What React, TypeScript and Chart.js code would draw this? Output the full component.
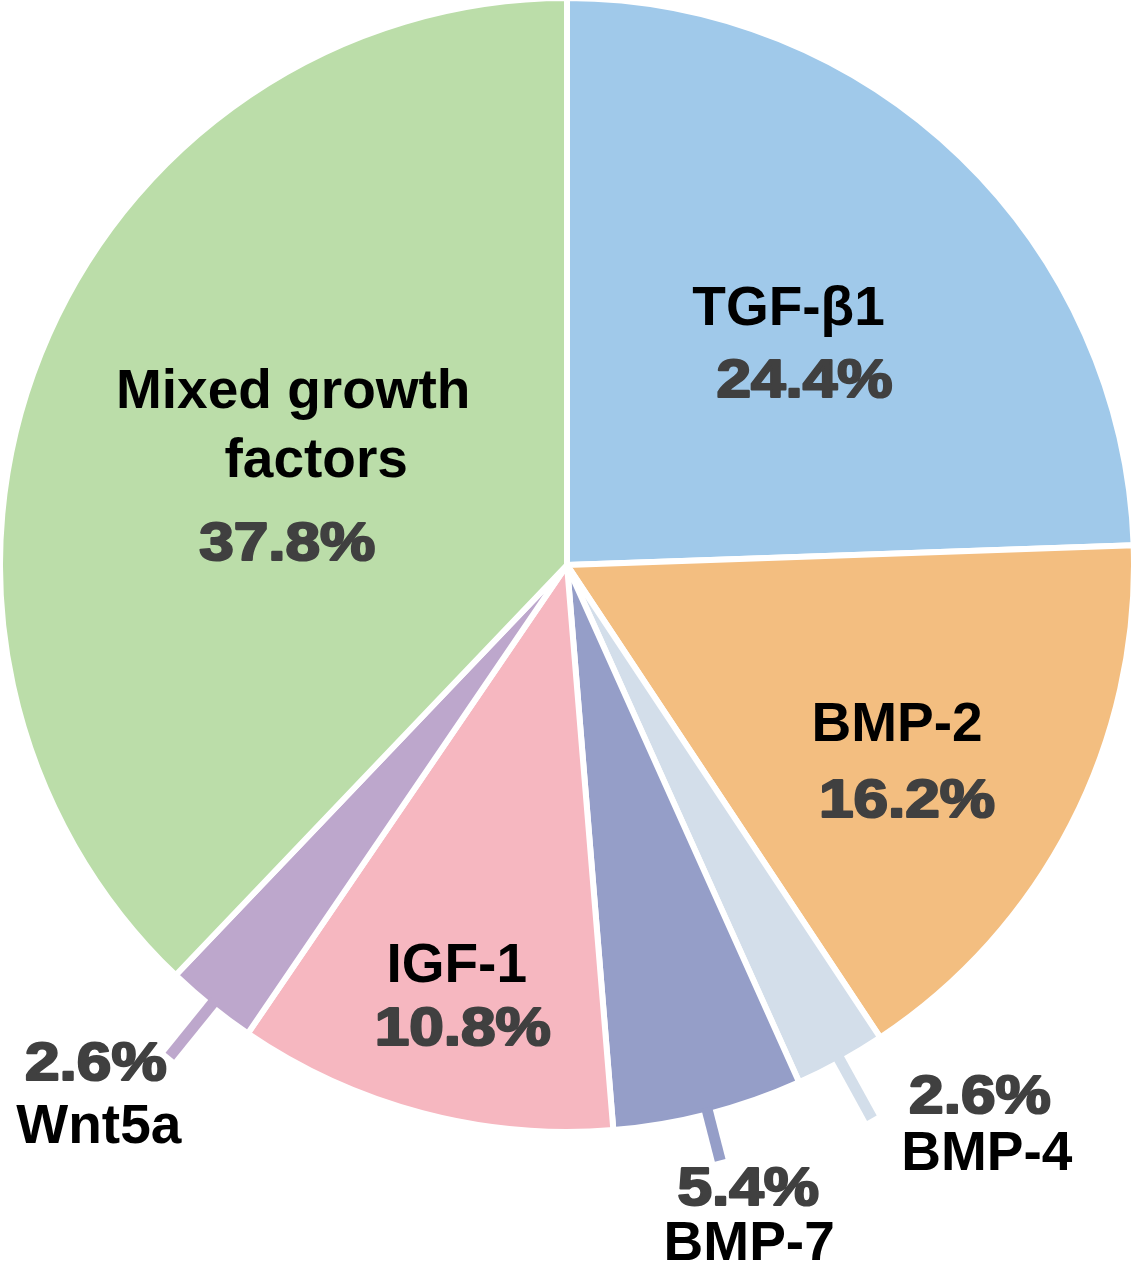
import React, { useEffect, useRef } from "react";
import { Chart, registerables } from "chart.js";

Chart.register(...registerables);

const categories = ["TGF-β1", "BMP-2", "BMP-4", "BMP-7", "IGF-1", "Wnt5a", "Mixed growth factors"];
const values = [24.4, 16.2, 2.6, 5.4, 10.8, 2.6, 37.8];
const percentLabels = ["24.4%", "16.2%", "2.6%", "5.4%", "10.8%", "2.6%", "37.8%"];
const nameLines = [["TGF-β1"], ["BMP-2"], ["BMP-4"], ["BMP-7"], ["IGF-1"], ["Wnt5a"], ["Mixed growth", "factors"]];
const colors = ["#A0C9EA", "#F3BE80", "#D3DEEA", "#959EC8", "#F6B7C0", "#BDA7CC", "#BBDDA9"];

// label layout (per slice): inside = anchor at mid-angle * frac; outside = leader line end at frac
type LabelLine = { kind: "name" | "pct"; idx?: number; dx: number; dy: number };
type LabelCfg = { outside: boolean; frac: number; lines: LabelLine[] };
const labelLayout: LabelCfg[] = [
  { outside: false, frac: 0.55, lines: [{ kind: "name", idx: 0, dx: 6, dy: -17 }, { kind: "pct", dx: 22, dy: 55 }] },
  { outside: false, frac: 0.68, lines: [{ kind: "name", idx: 0, dx: -11, dy: 0 }, { kind: "pct", dx: -1, dy: 76 }] },
  { outside: true, frac: 1.12, lines: [{ kind: "pct", dx: 108, dy: -5 }, { kind: "name", idx: 0, dx: 115, dy: 52 }] },
  { outside: true, frac: 1.09, lines: [{ kind: "pct", dx: 28, dy: 45 }, { kind: "name", idx: 0, dx: 29, dy: 100 }] },
  { outside: false, frac: 0.78, lines: [{ kind: "name", idx: 0, dx: 2, dy: -8 }, { kind: "pct", dx: 8, dy: 55 }] },
  { outside: true, frac: 1.12, lines: [{ kind: "pct", dx: -74, dy: 24 }, { kind: "name", idx: 0, dx: -71, dy: 87 }] },
  { outside: false, frac: 0.5, lines: [{ kind: "name", idx: 0, dx: -12, dy: -52 }, { kind: "name", idx: 1, dx: 11, dy: 17 }, { kind: "pct", dx: -18, dy: 100 }] },
];

const NAME_FONT = 'bold 55px "Liberation Sans", Arial, sans-serif';
const PCT_FONT = 'bold 54px "Liberation Sans", Arial, sans-serif';
const PCT_SCALE_X = 1.15;
const BORDER = 6;

const labelPlugin = {
  id: "sliceLabels",
  afterDatasetsDraw(chart: any) {
    const ctx = chart.ctx as CanvasRenderingContext2D;
    const meta = chart.getDatasetMeta(0);
    meta.data.forEach((arc: any, i: number) => {
      const cfg = labelLayout[i];
      if (!cfg) return;
      const { x, y, startAngle, endAngle, outerRadius } = arc.getProps(["x", "y", "startAngle", "endAngle", "outerRadius"], true);
      const r = outerRadius - BORDER / 2;
      const mid = (startAngle + endAngle) / 2;
      const ax = x + Math.cos(mid) * r * cfg.frac;
      const ay = y + Math.sin(mid) * r * cfg.frac;
      ctx.save();
      if (cfg.outside) {
        ctx.strokeStyle = colors[i];
        ctx.lineWidth = 11;
        ctx.lineCap = "butt";
        ctx.beginPath();
        ctx.moveTo(x + Math.cos(mid) * (r - 4), y + Math.sin(mid) * (r - 4));
        ctx.lineTo(ax, ay);
        ctx.stroke();
      }
      ctx.textAlign = "center";
      ctx.textBaseline = "alphabetic";
      cfg.lines.forEach((ln) => {
        if (ln.kind === "name") {
          ctx.font = NAME_FONT;
          ctx.fillStyle = "#000000";
          ctx.fillText(nameLines[i][ln.idx || 0], ax + ln.dx, ay + ln.dy);
        } else {
          ctx.save();
          ctx.translate(ax + ln.dx, ay + ln.dy);
          ctx.scale(PCT_SCALE_X, 1);
          ctx.font = PCT_FONT;
          ctx.fillStyle = "#404040";
          ctx.strokeStyle = "#404040";
          ctx.lineWidth = 2.2;
          ctx.lineJoin = "round";
          ctx.fillText(percentLabels[i], 0, 0);
          ctx.strokeText(percentLabels[i], 0, 0);
          ctx.restore();
        }
      });
      ctx.restore();
    });
  },
};

export default function App() {
  const ref = useRef<HTMLCanvasElement | null>(null);
  useEffect(() => {
    document.body.style.margin = "0";
    const canvas = ref.current;
    if (!canvas) return;
    const chart = new Chart(canvas, {
      type: "pie",
      data: {
        labels: categories,
        datasets: [
          {
            data: values,
            backgroundColor: colors,
            borderColor: "#ffffff",
            borderWidth: BORDER,
            hoverOffset: 0,
            offset: 0,
          },
        ],
      },
      options: {
        responsive: false,
        animation: false,
        devicePixelRatio: 1,
        layout: { padding: { top: 0, left: 0, right: 0, bottom: 129 } },
        plugins: { legend: { display: false }, tooltip: { enabled: false } },
        events: [],
      },
      plugins: [labelPlugin],
    });
    return () => chart.destroy();
  }, []);
  return (
    <div style={{ position: "relative", width: 1134, height: 1264, overflow: "hidden", background: "#fff" }}>
      <canvas
        ref={ref}
        width={1140}
        height={1269}
        style={{ position: "absolute", left: -3, top: -5, width: 1140, height: 1269 }}
      />
    </div>
  );
}
